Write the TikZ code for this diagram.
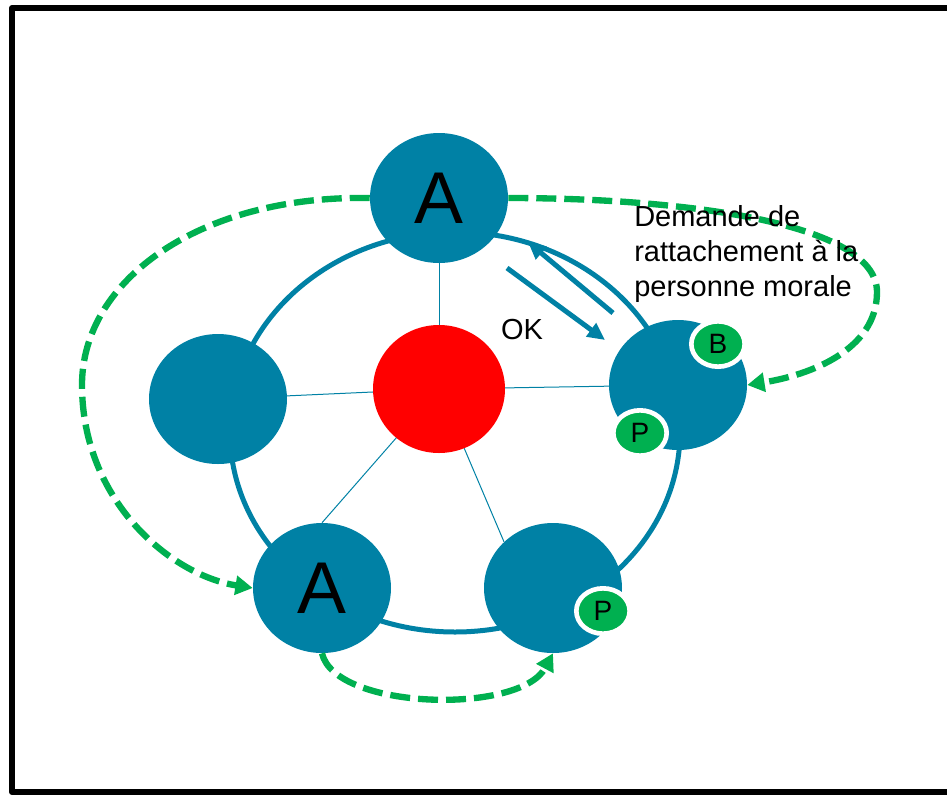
\documentclass[tikz,border=0pt]{standalone}
\usepackage{fontspec}
\setmainfont{Liberation Sans}
\usetikzlibrary{arrows.meta}
\usetikzlibrary{shapes.geometric}
\usetikzlibrary{backgrounds}
\definecolor{petrol}{RGB}{0,129,165}
\definecolor{leaf}{RGB}{0,176,80}

\begin{document}
\begin{tikzpicture}[x=0.75pt, y=-0.75pt,
    member/.style={ellipse, fill=petrol, inner sep=0pt, minimum width=103.5pt, minimum height=97.5pt, font=\fontsize{55}{55}\selectfont},
    badge/.style={ellipse, fill=leaf, draw=white, line width=3.5pt, inner sep=0pt, minimum width=40pt, minimum height=34pt, font=\fontsize{21}{21}\selectfont},
    spoke/.style={petrol, line width=0.75pt},
    request/.style={leaf, line width=4.75pt, dash pattern=on 15pt off 6pt, -{Triangle[length=13pt, width=14pt]}},
    answer/.style={petrol, line width=3.75pt, -{Triangle[length=13pt, width=12pt]}}]
    \useasboundingbox (0,0) rectangle (947,794);
    % Draw the frame
    \draw[line width=4.5pt, line join=round] (12,8) rectangle (1000,792);

    % Draw the members
    \node[ellipse, fill=red, inner sep=0pt, minimum width=99pt, minimum height=96pt] (hub) at (439,389) {};
    \node[member] (topA) at (439,198) {A};
    \node[member] (left) at (218,399) {};
    \node[member] (right) at (678,385) {};
    \node[member] (lowA) at (322,588) {A};
    \node[member] (lowright) at (553,588) {};

    % Draw the ring and the spokes behind them
    \begin{pgfonlayer}{background}
    \draw[petrol, line width=3.75pt] (455,432) ellipse [x radius=225, y radius=200];
    \draw[spoke] (hub.center) -- (topA.center);
    \draw[spoke] (hub.center) -- (left.center);
    \draw[spoke] (hub.center) -- (right.center);
    \draw[spoke] (hub.center) -- (lowA.north);
    \draw[spoke] (hub.center) -- (lowright.north west);
    \end{pgfonlayer}

    % Draw the badges
    \node[badge] (rightB) at (718,344) {B};
    \node[badge] (rightP) at (640,433) {P};
    \node[badge] (lowP) at (603,611) {P};

    % Draw the requests
    \draw[request] (topA.west) .. controls (200,195) and (82,280) .. (82,385)
        .. controls (82,500) and (170,575) .. (lowA.west);
    \draw[request] (topA.east) .. controls (680,198) and (877,222) .. (877,292)
        .. controls (877,350) and (810,375) .. (right.east);
    \draw[request] (lowA.south) .. controls (335,710) and (520,715) .. (lowright.south);

    % Draw the answers
    \coordinate (okfrom) at (507,268);
    \coordinate (okto) at (605,340);
    \coordinate (askfrom) at (613,313);
    \coordinate (askto) at (528,242);
    \draw[answer] (okfrom) -- (okto);
    \draw[answer] (askfrom) -- (askto);
    \node[font=\fontsize{21.75}{21.75}\selectfont] (ok) at (522,330) {OK};
    \node[anchor=north west, align=left, inner sep=0pt, font=\fontsize{21.75}{26.5}\selectfont] (demand) at (634,205)
        {Demande de\\rattachement à la\\personne morale};
\end{tikzpicture}
\end{document}
